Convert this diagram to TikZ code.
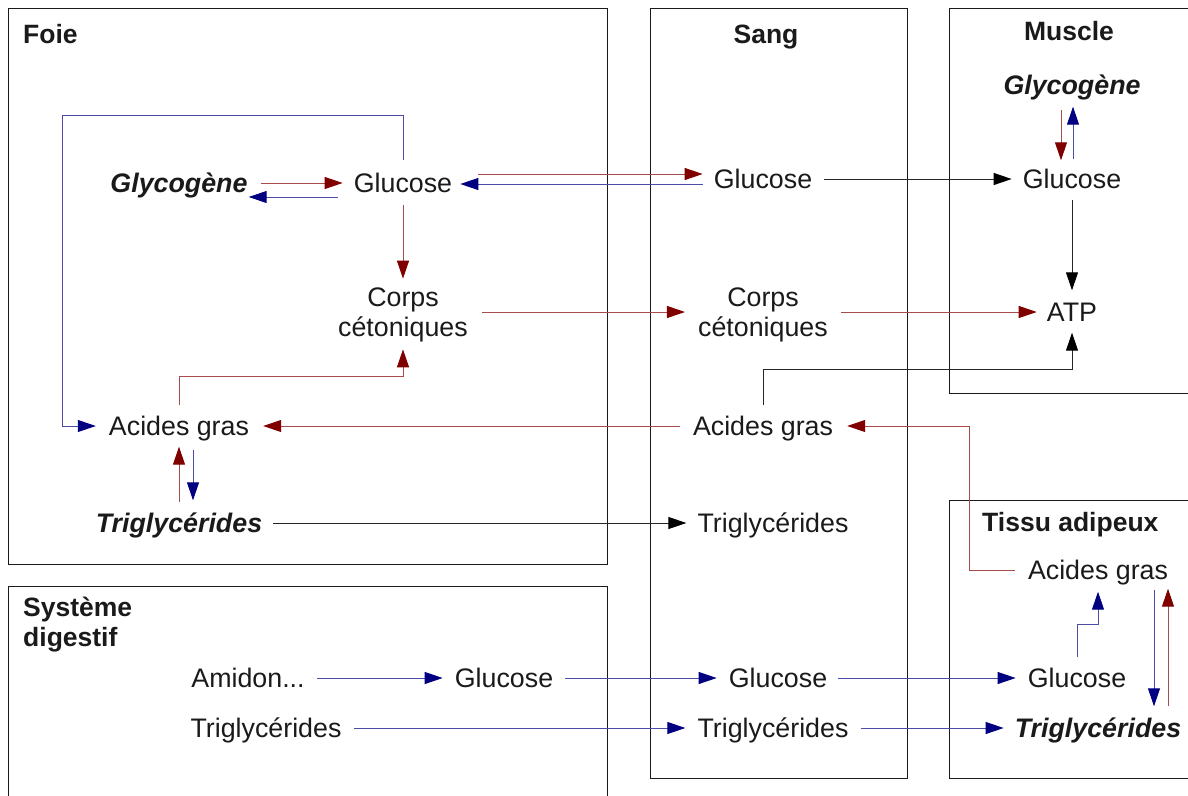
\documentclass[tikz,border=0pt]{standalone}
\usepackage{fontspec}
\setmainfont{Liberation Sans}
\usetikzlibrary{arrows.meta}
\definecolor{ddred}{RGB}{128,0,0}
\definecolor{ddblue}{RGB}{0,0,128}
\definecolor{ink}{RGB}{26,26,26}
\tikzset{
  lbl/.style={text=ink, inner sep=0pt, text height=19pt, text depth=0pt,
    font=\fontsize{26.8}{30}\selectfont},
  met/.style={lbl, font=\fontsize{26.8}{30}\selectfont\bfseries\itshape},
  two/.style={text=ink, inner sep=0pt, align=center,
    font=\fontsize{26.8}{30}\selectfont},
  ttl/.style={text=ink, inner sep=0pt, anchor=west, text height=19pt, text depth=0pt,
    font=\fontsize{26.5}{30}\selectfont\bfseries},
  ttltwo/.style={text=ink, inner sep=0pt, anchor=west, align=left,
    font=\fontsize{26.5}{30}\selectfont\bfseries},
  organ/.style={draw=ink, line width=1pt},
  fr/.style={line width=1pt, draw=ddred!70!white,
    -{Triangle[length=18pt,width=12pt,color=ddred]}},
  fb/.style={line width=1pt, draw=ddblue!70!white,
    -{Triangle[length=18pt,width=12pt,color=ddblue]}},
  fk/.style={line width=1pt, draw=black!85,
    -{Triangle[length=18pt,width=12pt,color=black]}},
}
\begin{document}
\begin{tikzpicture}[x=1pt, y=-1pt]
      \useasboundingbox (0,0) rectangle (1188,795);
      \clip (0,0) rectangle (1188,795);
      \draw[organ] (8,8) rectangle (607,564);
      \draw[organ] (650,8) rectangle (907,778);
      \draw[organ] (949,8) rectangle (1200,393);
      \draw[organ] (949,500) rectangle (1200,778);
      \draw[organ] (8,586) rectangle (607,810);
      \path
        (23,34) node[ttl] (foie){Foie}
        (766,34) node[ttl, anchor=center] (sang){Sang}
        (1069,31) node[ttl, anchor=center] (muscle){Muscle}
        (982,522) node[ttl] (tissu){Tissu adipeux}
        (23,625) node[ttltwo] (digest){Système\\digestif};
      \path
        (179,183) node[met] (fGlyco){Glycogène}
        (403,183) node[lbl] (fGluc){Glucose}
        (403,315) node[two] (fCorps){Corps\\cétoniques}
        (179,426) node[lbl] (fAcid){Acides gras}
        (179,523) node[met] (fTrig){Triglycérides};
      \path
        (763,179) node[lbl] (sGluc){Glucose}
        (763,315) node[two] (sCorps){Corps\\cétoniques}
        (763,426) node[lbl] (sAcid){Acides gras}
        (773,523) node[lbl] (sTrig){Triglycérides}
        (778,678) node[lbl] (sGlucD){Glucose}
        (773,728) node[lbl] (sTrigD){Triglycérides};
      \path
        (1072,85) node[met] (mGlyco){Glycogène}
        (1072,179) node[lbl] (mGluc){Glucose}
        (1072,312) node[lbl] (mATP){ATP};
      \path
        (1098,570) node[lbl] (tAcid){Acides gras}
        (1077,678) node[lbl] (tGluc){Glucose}
        (1098,728) node[met] (tTrig){Triglycérides};
      \path
        (248,678) node[lbl] (dAmid){Amidon...}
        (504,678) node[lbl] (dGluc){Glucose}
        (266,728) node[lbl] (dTrig){Triglycérides};
      \begin{scope}[fr]
        \draw ([xshift=13pt]fGlyco.east) -- ([xshift=-11pt]fGluc.west);
        \draw ([xshift=26pt,yshift=9pt]fGluc.east) -- ([xshift=-11pt,yshift=5pt]sGluc.west);
        \draw ([yshift=-12pt]fGluc.south) -- ([yshift=9pt]fCorps.north);
        \draw ([yshift=11pt]fAcid.north) -- ++(0,-29) -| ([yshift=-7pt]fCorps.south);
        \draw ([yshift=11pt]fTrig.north) -- ([yshift=-11pt]fAcid.south);
        \draw ([xshift=14pt,yshift=3pt]fCorps.east) -- ([xshift=-13pt,yshift=3pt]sCorps.west);
        \draw ([xshift=-13pt]sAcid.west) -- ([xshift=14pt]fAcid.east);
        \draw ([xshift=13pt,yshift=3pt]sCorps.east) -- ([xshift=-10pt]mATP.west);
        \draw ([xshift=-11pt,yshift=-15pt]mGlyco.south) -- ([xshift=-11pt,yshift=9pt]mGluc.north);
        \draw ([xshift=-13pt]tAcid.west) -- ++(-45,0) |- ([xshift=14pt]sAcid.east);
        \draw ([xshift=70pt,yshift=12pt]tTrig.north) -- ([xshift=70pt,yshift=-9pt]tAcid.south);
      \end{scope}
      \begin{scope}[fb]
        \draw ([xshift=-16pt,yshift=-14pt]fGluc.west) -- ([xshift=1pt,yshift=-14pt]fGlyco.east);
        \draw ([xshift=-11pt,yshift=-5pt]sGluc.west) -- ([xshift=8pt,yshift=-1pt]fGluc.east);
        \draw ([yshift=13pt]fGluc.north) -- ++(0,-45) -| ([xshift=-46pt]fAcid.west)
          -- ([xshift=-13pt]fAcid.west);
        \draw ([xshift=14pt,yshift=-14pt]fAcid.south) -- ([xshift=14pt,yshift=13pt]fTrig.north);
        \draw ([xshift=1pt,yshift=10pt]mGluc.north) -- ([xshift=1pt,yshift=-12pt]mGlyco.south);
        \draw ([yshift=11pt]tGluc.north) -- ++(0,-33) -| ([yshift=-12pt]tAcid.south);
        \draw ([xshift=56pt,yshift=-10pt]tAcid.south) -- ([xshift=56pt,yshift=12pt]tTrig.north);
        \draw ([xshift=12pt]dAmid.east) -- ([xshift=-12pt]dGluc.west);
        \draw ([xshift=12pt]dGluc.east) -- ([xshift=-12pt]sGlucD.west);
        \draw ([xshift=12pt]dTrig.east) -- ([xshift=-12pt]sTrigD.west);
        \draw ([xshift=11pt]sGlucD.east) -- ([xshift=-12pt]tGluc.west);
        \draw ([xshift=12pt]sTrigD.east) -- ([xshift=-11pt]tTrig.west);
      \end{scope}
      \begin{scope}[fk]
        \draw ([xshift=11pt]fTrig.east) -- ([xshift=-11pt]sTrig.west);
        \draw ([xshift=12pt]sGluc.east) -- ([xshift=-11pt]mGluc.west);
        \draw ([yshift=11pt]sAcid.north) -- ++(0,-36) -| ([yshift=-11pt]mATP.south);
        \draw ([yshift=-11pt]mGluc.south) -- ([yshift=12pt]mATP.north);
      \end{scope}
    \end{tikzpicture}
\end{document}
